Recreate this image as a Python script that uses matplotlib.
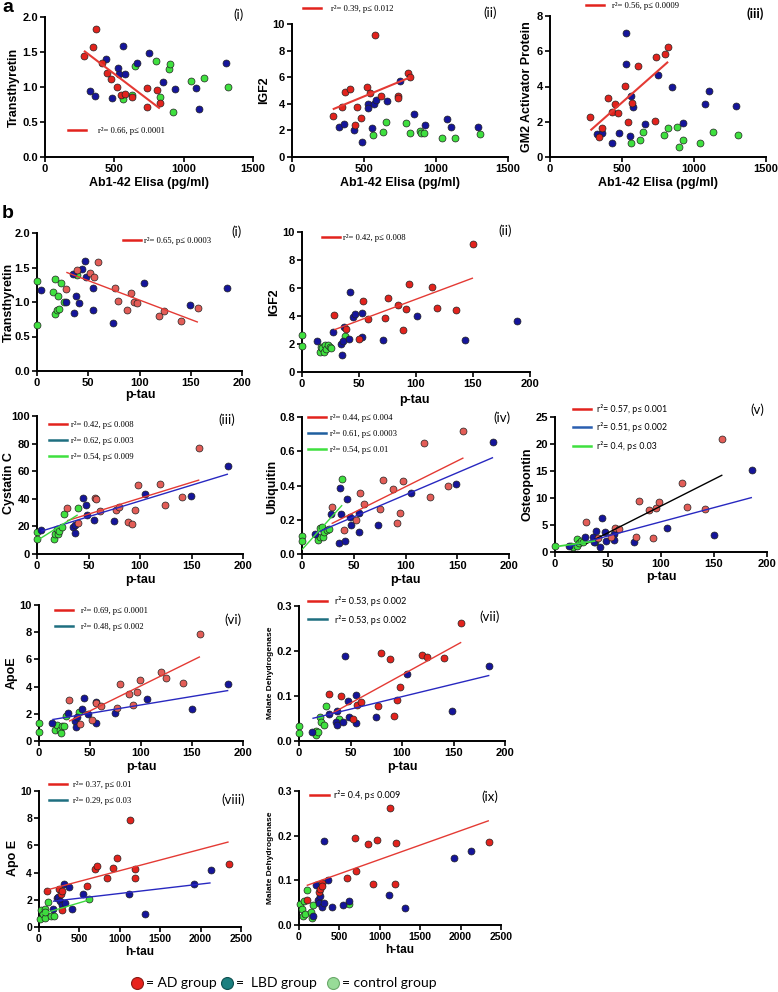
import numpy as np
import matplotlib
matplotlib.use('Agg')
import matplotlib.pyplot as plt
from matplotlib.lines import Line2D

W, H = 778, 992
fig = plt.figure(figsize=(W / 100, H / 100), dpi=100)
plt.rcParams['font.family'] = ['Liberation Sans', 'DejaVu Sans']

# ---------------- data (x, y) per group ----------------
AI_AD = [(281, 1.44), (343, 1.57), (365, 1.83), (408, 1.35), (449, 1.20), (475, 1.11), (521, 1.00), (545, 0.88),
         (578, 0.90), (624, 0.86), (734, 0.98), (739, 0.71), (811, 0.96), (828, 0.77)]
AI_LBD = [(326, 0.94), (360, 0.87), (439, 1.40), (485, 0.84), (530, 1.27), (535, 1.18), (566, 1.59), (578, 1.19),
          (665, 1.35), (751, 1.48), (854, 1.07), (936, 0.97), (1087, 0.99), (1114, 0.69), (1306, 1.35)]
AI_CTRL = [(562, 0.83), (631, 0.89), (650, 1.30), (799, 1.37), (895, 1.26), (905, 1.33), (828, 0.86), (926, 0.65),
           (1056, 1.08), (1145, 1.13), (1318, 1.00)]

AII_AD = [(283, 3.07), (344, 3.77), (367, 4.85), (406, 5.08), (448, 3.79), (439, 2.39), (476, 2.96), (522, 5.23),
          (541, 4.82), (576, 9.2), (615, 4.57), (734, 4.55), (734, 4.42), (803, 6.33), (820, 6.03)]
AII_LBD = [(327, 2.29), (358, 2.51), (430, 2.01), (483, 1.16), (529, 4.02), (529, 3.67), (557, 2.19), (567, 3.97),
           (581, 4.27), (662, 4.20), (748, 5.70), (848, 3.22), (926, 2.39), (1077, 2.89), (1101, 2.29), (1293, 2.24)]
AII_CTRL = [(560, 1.68), (629, 1.91), (650, 2.64), (792, 2.56), (822, 1.81), (889, 1.93), (899, 1.81), (920, 1.81),
            (1045, 1.41), (1131, 1.43), (1305, 1.76)]

AIII_AD = [(281, 2.29), (341, 1.12), (362, 1.67), (402, 3.36), (434, 2.56), (448, 3.0), (471, 2.48), (522, 4.04),
           (541, 1.99), (571, 3.07), (611, 5.17), (729, 2.03), (734, 5.65), (801, 5.82), (820, 6.22)]
AIII_LBD = [(327, 1.29), (358, 1.36), (430, 0.82), (481, 1.38), (529, 7.03), (529, 5.25), (557, 1.19), (564, 3.47),
            (578, 2.82), (659, 1.86), (748, 4.63), (845, 3.96), (926, 1.95), (1077, 3.0), (1101, 3.72), (1293, 2.92)]
AIII_CTRL = [(560, 0.82), (625, 0.97), (648, 1.42), (789, 1.23), (822, 1.63), (885, 1.69), (896, 0.57), (922, 0.95),
             (1045, 0.80), (1131, 1.42), (1303, 1.25)]

BI_AD = [(28.6, 1.19), (39, 1.46), (51.4, 1.42), (56, 1.36), (59.8, 1.58), (76, 1.21), (78.7, 1.01), (87.5, 0.89),
         (91.7, 1.13), (95, 1.0), (97.9, 0.98), (118.7, 0.79), (124, 0.87), (140.8, 0.73), (157, 0.92)]
BI_LBD = [(4, 1.17), (28, 1.0), (35.4, 1.40), (36.4, 0.84), (37.7, 1.08), (41.3, 0.98), (43.6, 1.48), (46.5, 1.59),
          (47.5, 1.36), (55, 1.20), (55, 0.88), (74, 0.70), (104.7, 1.28), (149, 0.95), (185.4, 1.20)]
BI_CTRL = [(0, 1.31), (0, 0.66), (15.6, 1.14), (17.9, 1.34), (17.2, 0.83), (20.5, 1.09), (19.8, 0.88), (21.5, 0.90),
           (23.7, 1.27), (26, 1.0), (39, 1.39)]

BII_AD = [(28.3, 4.10), (38.7, 3.08), (49.8, 2.39), (53.9, 5.07), (57.7, 3.79), (72.8, 3.89), (75.7, 5.26),
          (84.2, 4.79), (88.3, 2.99), (90.9, 4.53), (94.1, 6.30), (113.9, 6.04), (118.6, 4.60), (135.2, 4.43),
          (150, 9.15)]
BII_LBD = [(12.8, 2.18), (27.4, 2.89), (33.8, 1.99), (34.7, 1.18), (35.8, 2.25), (36.7, 3.25), (40.8, 2.37),
           (42.2, 5.69), (44.9, 3.93), (46.3, 4.17), (52.7, 4.24), (53, 2.51), (71, 2.30), (100.5, 4.03),
           (142.7, 2.30), (189, 3.65)]
BII_CTRL = [(0, 2.65), (0, 1.87), (15.4, 1.40), (16.3, 1.80), (17.8, 1.73), (18.9, 1.40), (19.8, 1.90), (21, 1.63),
            (22.7, 1.94), (24.2, 1.78), (25.6, 1.71), (37.6, 2.58)]

BIII_AD = [(29.1, 33.5), (40, 22.5), (56, 40.5), (57.5, 39.5), (60.8, 31.3), (76.4, 32), (79.3, 33.7), (88.3, 23.5),
           (92.6, 22), (95.5, 31.8), (98.4, 49.7), (119.4, 50.9), (124.3, 35.2), (141, 41), (157.6, 76.8)]
BIII_LBD = [(4.2, 17.5), (35, 19.9), (36.6, 15), (36.9, 21.3), (44.3, 40.5), (47.6, 35.2), (48.5, 28.4),
            (55.3, 24.7), (74.4, 24.2), (105.2, 43.2), (149.2, 41.7), (185.4, 63.5)]
BIII_CTRL = [(0, 16.2), (0, 11.2), (16.2, 10.9), (17.2, 14.3), (19.4, 17.9), (20.4, 14.3), (21.4, 17), (24, 19.9),
             (25.9, 29.3), (39.5, 33)]

BIV_AD = [(28.6, 0.277), (40.1, 0.143), (52, 0.201), (55.9, 0.356), (60, 0.29), (75.8, 0.265), (78.7, 0.432),
          (87.6, 0.377), (91.5, 0.182), (94.7, 0.242), (97.6, 0.426), (118, 0.648), (123.6, 0.333), (140.6, 0.397),
          (156, 0.72)]
BIV_LBD = [(12.8, 0.116), (27.6, 0.232), (35.6, 0.066), (36.6, 0.387), (37.2, 0.232), (41.4, 0.077), (43.7, 0.319),
           (46.5, 0.215), (47.2, 0.17), (54.9, 0.13), (55.2, 0.238), (73.5, 0.17), (105, 0.356), (148.6, 0.41),
           (184.6, 0.652)]
BIV_CTRL = [(0, 0.108), (0, 0.075), (15.4, 0.079), (17, 0.099), (17.7, 0.153), (19.6, 0.155), (20.2, 0.10),
            (21.5, 0.126), (24, 0.143), (26.3, 0.145), (38.8, 0.44)]

BV_AD = [(29.2, 5.49), (40.3, 2.53), (52.8, 2.7), (56.6, 4.44), (60.7, 4.32), (76.4, 2.78), (79.6, 9.38),
         (88.4, 7.72), (92.5, 2.65), (95.6, 8.2), (98.4, 9.26), (119.5, 12.78), (124.5, 8.33), (141.8, 7.96),
         (157.9, 20.86)]
BV_LBD = [(13.5, 1.17), (28.3, 2.84), (35.5, 2.84), (36.5, 1.85), (38.7, 3.95), (42.5, 0.86), (44.7, 6.36),
          (47.5, 3.64), (48.4, 1.98), (55.7, 3.33), (55.7, 2.16), (74.5, 1.85), (105.7, 4.44), (149.7, 3.2),
          (185.8, 15.25)]
BV_CTRL = [(0, 1.05), (15, 1.17), (16.7, 1.0), (20.4, 2.35), (20.8, 1.05), (22.6, 1.6), (24.5, 2.04), (26.7, 1.85),
           (38, 1.85)]

BVI_AD = [(29.4, 3.04), (40.5, 1.23), (52, 1.52), (56.2, 2.8), (60.5, 2.6), (76.5, 2.45), (79.7, 4.22), (88.6, 3.48),
          (92.5, 2.67), (95.8, 3.58), (98.7, 4.49), (119.6, 5.1), (124.5, 4.66), (141.5, 4.3), (157.8, 7.9)]
BVI_LBD = [(13, 1.33), (28.1, 2.06), (35.3, 1.45), (36.3, 1.0), (37.6, 1.77), (41.8, 2.36), (44.4, 3.17), (48, 2.01),
           (55.6, 2.87), (55.6, 1.33), (74.2, 2.06), (105.6, 3.12), (149.7, 2.38), (185.6, 4.17)]
BVI_CTRL = [(0, 1.33), (0, 0.66), (15.4, 0.79), (17.6, 1.15), (20.3, 0.79), (21.2, 0.61), (22.2, 1.13), (24.5, 1.1),
            (26.5, 1.82), (39.5, 2.13)]

BVII_AD = [(29.5, 0.105), (40.5, 0.10), (52.8, 0.05), (56.4, 0.079), (60.6, 0.087), (76.5, 0.078), (79.7, 0.196),
           (88.4, 0.182), (92.4, 0.056), (95.3, 0.091), (98.2, 0.121), (119.5, 0.191), (124.4, 0.187), (141, 0.184),
           (157.5, 0.262)]
BVII_LBD = [(13, 0.021), (28.8, 0.059), (35.7, 0.042), (36.6, 0.036), (37.3, 0.066), (42.8, 0.042), (44.7, 0.189),
            (47.3, 0.09), (48.6, 0.054), (55.4, 0.102), (55.8, 0.041), (74.6, 0.053), (105, 0.15), (148.8, 0.067),
            (184.8, 0.166)]
BVII_CTRL = [(0, 0.034), (0, 0.0185), (16.2, 0.022), (16.9, 0.013), (18.5, 0.021), (20.7, 0.053), (21, 0.043),
             (24.3, 0.035), (26.6, 0.078), (39.2, 0.049)]

BVIII_AD = [(103, 2.65), (247, 2.82), (268, 2.45), (280, 2.62), (289, 1.23), (594, 3.04), (689, 4.24), (714, 4.46),
            (846, 3.63), (920, 4.36), (969, 5.1), (1126, 7.87), (1188, 4.29), (1188, 3.6), (2347, 4.66)]
BVIII_LBD = [(173, 1.35), (223, 2.16), (239, 2.2), (264, 1.91), (289, 1.6), (309, 3.16), (322, 1.76), (367, 2.94),
             (408, 1.30), (545, 2.4), (1114, 2.4), (1312, 0.98), (1918, 3.14), (2124, 4.17)]
BVIII_CTRL = [(16, 0.61), (29, 1.27), (49, 0.93), (70, 1.35), (74, 0.64), (78, 1.1), (107, 1.84), (153, 0.81),
              (186, 0.78), (619, 2.08)]

BIX_AD = [(95, 0.056), (247, 0.074), (256, 0.08), (280, 0.093), (289, 0.087), (594, 0.106), (693, 0.194),
          (710, 0.121), (854, 0.181), (920, 0.091), (965, 0.19), (1126, 0.261), (1188, 0.091), (1200, 0.183),
          (2350, 0.185)]
BIX_LBD = [(169, 0.021), (206, 0.089), (239, 0.057), (247, 0.05), (256, 0.065), (280, 0.041), (309, 0.05),
           (309, 0.187), (359, 0.101), (408, 0.041), (540, 0.044), (619, 0.054), (1114, 0.067), (1316, 0.037),
           (1918, 0.149), (2128, 0.165)]
BIX_CTRL = [(16, 0.048), (41, 0.035), (54, 0.02), (66, 0.053), (78, 0.024), (103, 0.078), (144, 0.028),
            (157, 0.015), (173, 0.044), (615, 0.048)]

# ---------------- styles ----------------
RED = '#e2231d'
SALMON = '#e35d57'
BLUE = '#15159a'
GREEN = '#3fe03f'
LRED = '#e43a34'
LBLUE = '#2828c0'
LGREEN = '#3ed83e'
TEAL = '#1e6f80'
SANS = ['Liberation Sans', 'DejaVu Sans']
SERIF = ['Liberation Serif', 'DejaVu Serif']
CAL = ['Lato', 'DejaVu Sans']


def add_ax(x0, x1, ytop, ybot):
    ax = fig.add_axes([x0 / W, 1 - ybot / H, (x1 - x0) / W, (ybot - ytop) / H])
    for s in ('top', 'right'):
        ax.spines[s].set_visible(False)
    for s in ('left', 'bottom'):
        ax.spines[s].set_linewidth(1.4)
    ax.tick_params(direction='out', length=3.5, width=1.2, pad=1.5)
    ax.patch.set_alpha(0)
    return ax


def scatter(ax, pts, color):
    x = [p[0] for p in pts]
    y = [p[1] for p in pts]
    ax.scatter(x, y, s=25, c=color, edgecolors='#222222', linewidths=0.5, zorder=3, clip_on=False)


def fit(ax, pts, color, lw=1.0):
    x = np.array([p[0] for p in pts], float)
    y = np.array([p[1] for p in pts], float)
    k, b = np.polyfit(x, y, 1)
    xs = np.array([x.min(), x.max()])
    ax.plot(xs, k * xs + b, color=color, lw=lw, zorder=4, solid_capstyle='butt')


def ticks(ax, xt, xl, yt, yl, size=8):
    ax.set_xticks(xt)
    ax.set_xticklabels(xl, fontweight='bold', fontsize=size, family=SANS)
    ax.set_yticks(yt)
    ax.set_yticklabels(yl, fontweight='bold', fontsize=size, family=SANS)
    ax.set_xlim(xt[0], xt[-1])
    ax.set_ylim(yt[0], yt[-1])


def legend(ax, entries, x, y, pad, fam=SERIF, size=6.2, spacing=0.95):
    hs = [Line2D([], [], color=c, lw=1.8) for c, _ in entries]
    ls = [t for _, t in entries]
    ax.legend(hs, ls, loc='upper left', bbox_to_anchor=(x / W, 1 - y / H), bbox_transform=fig.transFigure,
              frameon=False, handlelength=2.1, handletextpad=pad, labelspacing=spacing, borderpad=0,
              borderaxespad=0, prop={'family': fam, 'size': size})


def txt(x, y, s, size=8, rot=0, weight='bold', fam=SANS, ha='center'):
    fig.text(x / W, 1 - y / H, s, fontsize=size, rotation=rot, fontweight=weight, family=fam,
             ha=ha, va='center')


ELISA_X = [0, 500, 1000, 1500]
ELISA_XL = ['0', '500', '1000', '1500']
PT_X = [0, 50, 100, 150, 200]
PT_XL = ['0', '50', '100', '150', '200']
HT_X = [0, 500, 1000, 1500, 2000, 2500]
HT_XL = ['0', '500', '1000', '1500', '2000', '2500']

# ---------------- panel a ----------------
ax = add_ax(45, 253, 17, 157)
ticks(ax, ELISA_X, ELISA_XL, [0, 0.5, 1.0, 1.5, 2.0], ['0.0', '0.5', '1.0', '1.5', '2.0'])
scatter(ax, AI_CTRL, GREEN); scatter(ax, AI_LBD, BLUE); scatter(ax, AI_AD, RED)
fit(ax, AI_AD, LRED, 1.5)
legend(ax, [(RED, 'r²= 0.66, p≤ 0.0001')], 68, 127, 1.4)
txt(149, 183, 'Ab1-42 Elisa (pg/ml)', 9)
txt(14, 87, 'Transthyretin', 9, 90)
txt(239, 15, '(i)', 9.5, weight='normal', fam=CAL)

ax = add_ax(292, 508, 24, 157)
ticks(ax, ELISA_X, ELISA_XL, [0, 2, 4, 6, 8, 10], ['0', '2', '4', '6', '8', '10'])
scatter(ax, AII_CTRL, GREEN); scatter(ax, AII_LBD, BLUE); scatter(ax, AII_AD, RED)
fit(ax, AII_AD, LRED, 1.5)
legend(ax, [(RED, 'r²= 0.39, p≤ 0.012')], 303, 5, 1.1)
txt(400, 183, 'Ab1-42 Elisa (pg/ml)', 9)
txt(264, 90, 'IGF2', 9, 90)
txt(490, 13, '(ii)', 9.5, weight='normal', fam=CAL)

ax = add_ax(550, 766, 16, 157)
ticks(ax, ELISA_X, ELISA_XL, [0, 2, 4, 6, 8], ['0', '2', '4', '6', '8'])
scatter(ax, AIII_CTRL, GREEN); scatter(ax, AIII_LBD, BLUE); scatter(ax, AIII_AD, RED)
fit(ax, AIII_AD, LRED, 1.5)
legend(ax, [(RED, 'r²= 0.56, p≤ 0.0009')], 586, 2, 0.9)
txt(658, 183, 'Ab1-42 Elisa (pg/ml)', 9)
txt(527, 87, 'GM2 Activator Protein', 9, 90)
txt(755, 14, '(iii)', 9.5, weight='bold', fam=CAL)

txt(2, 8, 'a', 14, ha='left')
txt(2, 214, 'b', 14, ha='left')

# ---------------- panel b ----------------
ax = add_ax(37, 242, 233, 371)
ticks(ax, PT_X, PT_XL, [0, 0.5, 1.0, 1.5, 2.0], ['0.0', '0.5', '1.0', '1.5', '2.0'])
scatter(ax, BI_CTRL, GREEN); scatter(ax, BI_LBD, BLUE); scatter(ax, BI_AD, SALMON)
fit(ax, BI_AD, LRED)
legend(ax, [(RED, 'r²= 0.65, p≤ 0.0003')], 123, 237, 0.35)
txt(140, 395, 'p-tau', 9)
txt(9, 302, 'Transthyretin', 9, 90)
txt(237, 232, '(i)', 9.5, weight='normal', fam=CAL)

ax = add_ax(302, 530, 232, 372)
ticks(ax, PT_X, PT_XL, [0, 2, 4, 6, 8, 10], ['0', '2', '4', '6', '8', '10'])
scatter(ax, BII_CTRL, GREEN); scatter(ax, BII_LBD, BLUE); scatter(ax, BII_AD, RED)
fit(ax, BII_AD, LRED)
legend(ax, [(RED, 'r²= 0.42, p≤ 0.008')], 322, 234, 0.35)
txt(414, 400, 'p-tau', 9)
txt(274, 302, 'IGF2', 9, 90)
txt(505, 231, '(ii)', 9.5, weight='normal', fam=CAL)

ax = add_ax(37, 243, 416, 554)
ticks(ax, PT_X, PT_XL, [0, 20, 40, 60, 80, 100], ['0', '20', '40', '60', '80', '100'])
scatter(ax, BIII_CTRL, GREEN); scatter(ax, BIII_LBD, BLUE); scatter(ax, BIII_AD, SALMON)
fit(ax, BIII_AD, LRED); fit(ax, BIII_LBD, LBLUE); fit(ax, BIII_CTRL, LGREEN)
legend(ax, [(RED, 'r²= 0.42, p≤ 0.008'), (TEAL, 'r²= 0.62, p≤ 0.003'), (GREEN, 'r²= 0.54, p≤ 0.009')],
       49, 421, 0.4)
txt(140, 580, 'p-tau', 9)
txt(9, 483, 'Cystatin C', 9, 90)
txt(227, 420, '(iii)', 9.5, weight='normal', fam=CAL)

ax = add_ax(302, 509, 417, 554)
ticks(ax, PT_X, PT_XL, [0, 0.2, 0.4, 0.6, 0.8], ['0.0', '0.2', '0.4', '0.6', '0.8'])
scatter(ax, BIV_CTRL, GREEN); scatter(ax, BIV_LBD, BLUE); scatter(ax, BIV_AD, SALMON)
fit(ax, BIV_AD, LRED); fit(ax, BIV_LBD, LBLUE); fit(ax, BIV_CTRL, LGREEN)
legend(ax, [(RED, 'r²= 0.44, p≤ 0.004'), ('#1f5f9f', 'r²= 0.61, p≤ 0.0003'), (GREEN, 'r²= 0.54, p≤ 0.01')],
       308, 414, 0.5)
txt(405, 580, 'p-tau', 9)
txt(272, 487, 'Ubiquitin', 9, 90)
txt(502, 418, '(iv)', 9.5, weight='normal', fam=CAL)

ax = add_ax(555, 767, 417, 552)
ticks(ax, PT_X, PT_XL, [0, 5, 10, 15, 20, 25], ['0', '5', '10', '15', '20', '25'])
scatter(ax, BV_CTRL, GREEN); scatter(ax, BV_LBD, BLUE); scatter(ax, BV_AD, SALMON)
fit(ax, BV_AD, 'black'); fit(ax, BV_LBD, LBLUE); fit(ax, BV_CTRL, LGREEN, 1.3)
legend(ax, [(RED, 'r²= 0.57, p≤ 0.001'), ('#2a5fb0', 'r²= 0.51, p≤ 0.002'), (GREEN, 'r²= 0.4, p≤ 0.03')],
       573, 404, 0.6, fam=CAL, size=6.3)
txt(661, 577, 'p-tau', 9)
txt(527, 484, 'Osteopontin', 9, 90)
txt(757, 410, '(v)', 9.5, weight='normal', fam=CAL)

ax = add_ax(39, 243, 605, 741)
ticks(ax, PT_X, PT_XL, [0, 2, 4, 6, 8, 10], ['0', '2', '4', '6', '8', '10'])
scatter(ax, BVI_CTRL, GREEN); scatter(ax, BVI_LBD, BLUE); scatter(ax, BVI_AD, SALMON)
fit(ax, BVI_AD, LRED); fit(ax, BVI_LBD, LBLUE)
legend(ax, [(RED, 'r²= 0.69, p≤ 0.0001'), (TEAL, 'r²= 0.48, p≤ 0.002')], 55, 607, 0.9)
txt(141, 767, 'p-tau', 9)
txt(12, 673, 'ApoE', 9, 90)
txt(233, 620, '(vi)', 9.5, weight='normal', fam=CAL)

ax = add_ax(299, 505, 606, 741)
ticks(ax, PT_X, PT_XL, [0, 0.1, 0.2, 0.3], ['0.0', '0.1', '0.2', '0.3'])
scatter(ax, BVII_CTRL, GREEN); scatter(ax, BVII_LBD, BLUE); scatter(ax, BVII_AD, RED)
fit(ax, BVII_AD, LRED); fit(ax, BVII_LBD, LBLUE)
legend(ax, [(RED, 'r²= 0.53, p≤ 0.002'), (TEAL, 'r²= 0.53, p≤ 0.002')], 308, 596, 0.85, fam=CAL, size=6.5)
txt(402, 767, 'p-tau', 9)
txt(271, 673, 'Malate Dehydrogenase', 6, 90)
txt(490, 617, '(vii)', 9.5, weight='normal', fam=CAL)

ax = add_ax(39, 241, 791, 927)
ticks(ax, HT_X, HT_XL, [0, 2, 4, 6, 8, 10], ['0', '2', '4', '6', '8', '10'], size=7.5)
scatter(ax, BVIII_CTRL, GREEN); scatter(ax, BVIII_LBD, BLUE); scatter(ax, BVIII_AD, RED)
fit(ax, BVIII_AD, LRED); fit(ax, BVIII_LBD, LBLUE); fit(ax, BVIII_CTRL, LGREEN)
legend(ax, [(RED, 'r²= 0.37, p≤ 0.01'), (TEAL, 'r²= 0.29, p≤ 0.03')], 49, 781, 0.65)
txt(140, 952, 'h-tau', 8.5)
txt(13, 858, 'Apo E', 9, 90)
txt(233, 800, '(viii)', 9.5, weight='normal', fam=CAL)

ax = add_ax(299, 501, 791, 925)
ticks(ax, HT_X, HT_XL, [0, 0.1, 0.2, 0.3], ['0.0', '0.1', '0.2', '0.3'], size=7.5)
scatter(ax, BIX_CTRL, GREEN); scatter(ax, BIX_LBD, BLUE); scatter(ax, BIX_AD, RED)
fit(ax, BIX_AD, LRED)
legend(ax, [(RED, 'r²= 0.4, p≤ 0.009')], 310, 790, 0.6, fam=CAL, size=6.5)
txt(400, 950, 'h-tau', 8.5)
txt(271, 858, 'Malate Dehydrogenase', 6, 90)
txt(490, 797, '(ix)', 9.5, weight='normal', fam=CAL)

# ---------------- group key ----------------
KEY = [('#e8221c', '#8a1a14', 137, '= AD group'), ('#1c8080', '#0f5050', 227, '=  LBD group'),
       ('#98dc98', '#6aa86a', 333, '= control group')]
for fc, ec, cx, lab in KEY:
    fig.add_artist(Line2D([cx / W], [1 - 983 / H], marker='o', markersize=8.6, markerfacecolor=fc,
                          markeredgecolor=ec, markeredgewidth=0.8, transform=fig.transFigure))
    txt(cx + 9, 983, lab, 10, weight='normal', fam=CAL, ha='left')

fig.savefig('out.png', dpi=100)
